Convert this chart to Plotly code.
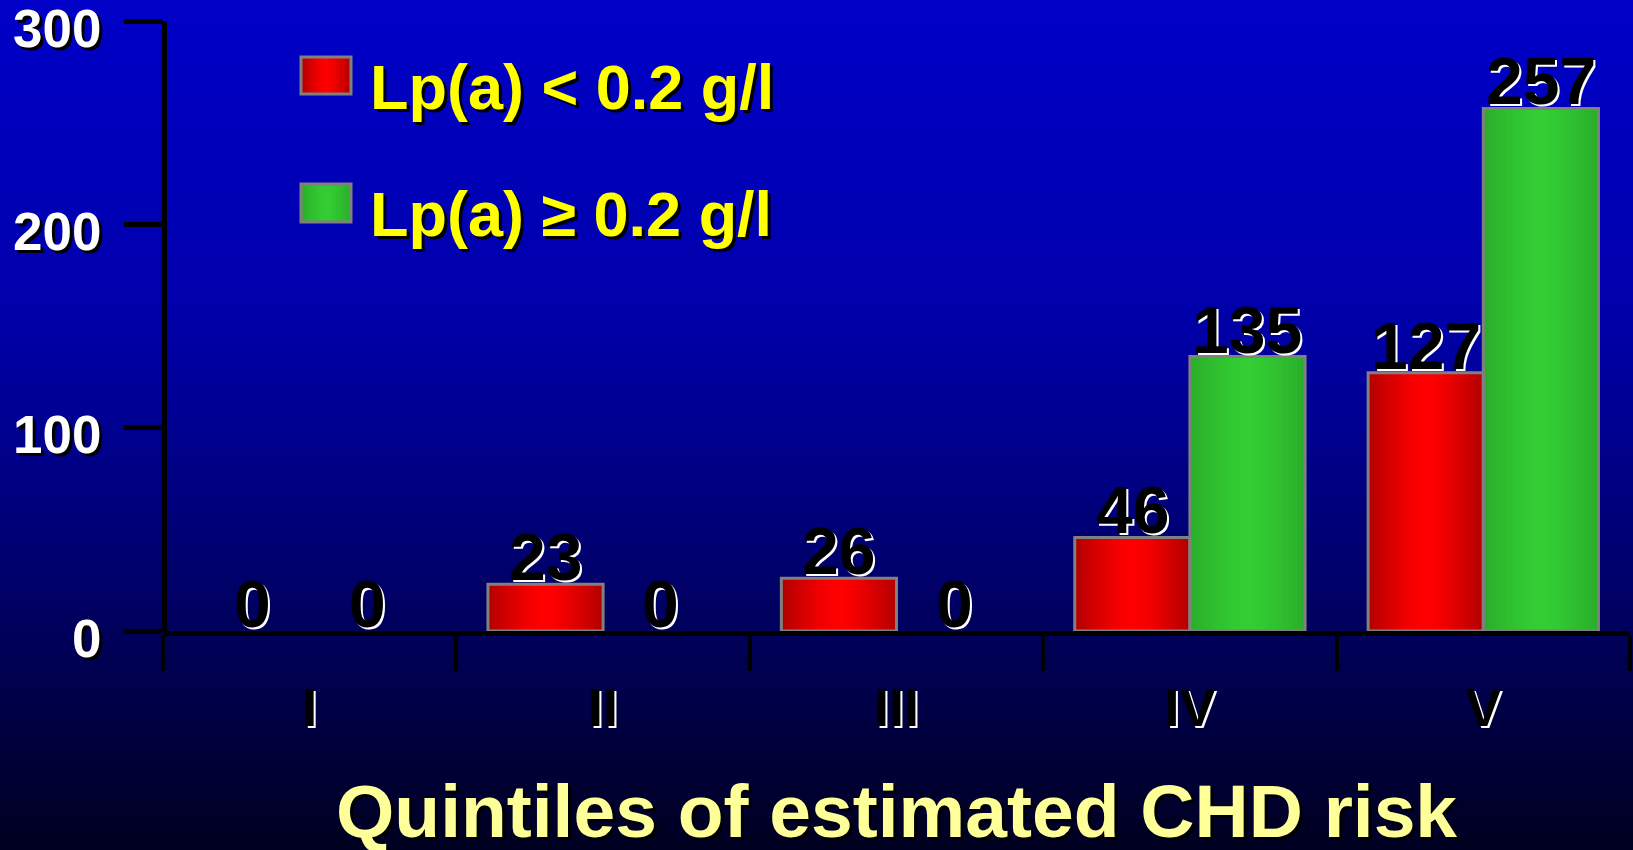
import plotly.graph_objects as go

# ---- data -------------------------------------------------------------
quintiles = ["I", "II", "III", "IV", "V"]
lpa_low = [0, 23, 26, 46, 127]        # Lp(a) < 0.2 g/l
lpa_high = [0, 0, 0, 135, 257]        # Lp(a) >= 0.2 g/l
series_names = ["Lp(a) < 0.2 g/l", "Lp(a) \u2265 0.2 g/l"]
y_tick_values = [0, 100, 200, 300]
x_title = "Quintiles of estimated CHD risk"

# ---- geometry ---------------------------------------------------------
W, H = 1633, 850
ML, MR, MT, MB = 163, 3, 21, 219
PW, PH = W - ML - MR, H - MT - MB


def paper_x(px):
    return (px - ML) / PW


def paper_y(py):
    return (H - MB - py) / PH


BARGAP = 0.215
BAR_W = (1 - BARGAP) / 2
CAT_PX = PW / len(quintiles)
AXIS_W = 5
FONT = "Liberation Sans, Arial, sans-serif"

RED_EDGE, RED_MID = (176, 0, 0), (255, 0, 0)
GREEN_EDGE, GREEN_MID = (42, 172, 42), (51, 206, 51)


def mix(a, b, f):
    return "rgb(%d,%d,%d)" % tuple(round(a[i] + (b[i] - a[i]) * f) for i in range(3))


def cylinder(t):
    # brightness profile across a bar: dark edges, bright centre
    return 1 - abs(2 * t - 1) ** 1.4


shapes = []

# page background: vertical blue gradient
bg_stops = [(0, 200), (300, 172), (425, 145), (600, 100), (700, 72), (850, 32)]


def bg_blue(y):
    for (y0, c0), (y1, c1) in zip(bg_stops, bg_stops[1:]):
        if y0 <= y <= y1:
            return c0 + (c1 - c0) * (y - y0) / (y1 - y0)
    return bg_stops[-1][1]


STEP = 4
for y in range(-STEP, H + STEP, STEP):
    shapes.append(dict(
        type="rect", xref="paper", yref="paper", layer="below",
        x0=paper_x(-10), x1=paper_x(W + 10), y0=paper_y(y + STEP + 1), y1=paper_y(y),
        fillcolor="rgb(0,0,%d)" % round(bg_blue(min(max(y + STEP / 2, 0), H))),
        line=dict(width=0),
    ))

# shaded fill of each bar (cylinder look)
N_STRIPS = 30
for values, offset, edge, mid in [
    (lpa_low, -BAR_W, RED_EDGE, RED_MID),
    (lpa_high, 0.0, GREEN_EDGE, GREEN_MID),
]:
    for i, v in enumerate(values):
        if v <= 0:
            continue
        for k in range(N_STRIPS):
            t0, t1 = k / N_STRIPS, (k + 1) / N_STRIPS
            shapes.append(dict(
                type="rect", xref="x", yref="y", layer="below",
                x0=i + offset + t0 * BAR_W, x1=i + offset + min(1.0, t1 + 0.01) * BAR_W,
                y0=0, y1=v,
                fillcolor=mix(edge, mid, cylinder((t0 + t1) / 2)), line=dict(width=0),
            ))

# legend swatches
swatch_boxes = [(301, 57, 351, 94), (301, 184, 351, 222)]
swatch_cols = [(RED_EDGE, RED_MID), (GREEN_EDGE, GREEN_MID)]
for (x0, y0, x1, y1), (edge, mid) in zip(swatch_boxes, swatch_cols):
    n = 20
    for k in range(n):
        a = x0 + (x1 - x0) * k / n
        b = x0 + (x1 - x0) * (k + 1.2) / n
        shapes.append(dict(
            type="rect", xref="paper", yref="paper", layer="above",
            x0=paper_x(a), x1=paper_x(min(b, x1)), y0=paper_y(y1), y1=paper_y(y0),
            fillcolor=mix(edge, mid, cylinder((k + 0.5) / n)), line=dict(width=0),
        ))
    shapes.append(dict(
        type="rect", xref="paper", yref="paper", layer="above",
        x0=paper_x(x0), x1=paper_x(x1), y0=paper_y(y1), y1=paper_y(y0),
        fillcolor="rgba(0,0,0,0)", line=dict(color="#808080", width=3),
    ))

# ---- traces -----------------------------------------------------------
fig = go.Figure()
for name, values in zip(series_names, [lpa_low, lpa_high]):
    fig.add_trace(go.Bar(
        name=name, x=quintiles, y=values,
        marker=dict(color="rgba(0,0,0,0)",
                    line=dict(color="#808080", width=[3 if v > 0 else 0 for v in values])),
        showlegend=False, hoverinfo="x+y",
    ))

annotations = []

# value labels sitting on top of each bar
label_font = dict(family=FONT, size=66, color="black", weight="bold",
                  shadow="2px 2px 0px white")
for values, side in [(lpa_low, -1), (lpa_high, 1)]:
    for q, v in zip(quintiles, values):
        annotations.append(dict(
            text=str(v), x=q, y=v, xref="x", yref="y", showarrow=False,
            xanchor="center", yanchor="bottom",
            xshift=side * BAR_W / 2 * CAT_PX, yshift=-12,
            font=label_font,
        ))

# legend texts
for name, (x0, y0, x1, y1) in zip(series_names, swatch_boxes):
    annotations.append(dict(
        text=name, xref="paper", yref="paper", showarrow=False,
        x=paper_x(368), xanchor="left", y=paper_y((y0 + y1) / 2 + 11), yanchor="middle",
        font=dict(family=FONT, size=63, color="#FFFF00", weight="bold",
                  shadow="3px 3px 0px black"),
    ))

# category axis title
annotations.append(dict(
    text=x_title, xref="paper", yref="paper", showarrow=False,
    x=0.5, xanchor="center", y=paper_y(811), yanchor="middle",
    font=dict(family=FONT, size=75, color="#FFFF99", weight="bold",
              shadow="3px 3px 0px black"),
))

fig.update_layout(
    width=W, height=H,
    margin=dict(l=ML, r=MR, t=MT, b=MB, pad=0, autoexpand=False),
    paper_bgcolor="#000060", plot_bgcolor="rgba(0,0,0,0)",
    barmode="group", bargap=BARGAP, bargroupgap=0,
    shapes=shapes, annotations=annotations,
    showlegend=False,
    xaxis=dict(
        type="category", range=[-0.5, 4.5], automargin=False,
        showline=True, linecolor="black", linewidth=AXIS_W,
        ticks="outside", tickson="boundaries", ticklen=35, tickwidth=4, tickcolor="black",
        showgrid=False, zeroline=False,
        tickfont=dict(family=FONT, size=54, color="black", weight="bold",
                      shadow="2px 2px 0px white"),
        ticklabelstandoff=25,
    ),
    yaxis=dict(
        range=[0, 300], tickvals=y_tick_values, automargin=False,
        anchor="free", position=1.0 / PW,
        showline=True, linecolor="black", linewidth=AXIS_W,
        ticks="outside", ticklen=38, tickwidth=5, tickcolor="black",
        showgrid=False, zeroline=False,
        tickfont=dict(family=FONT, size=53, color="white", weight="bold",
                      shadow="3px 3px 0px black"),
        ticklabelstandoff=12, ticklabelshift=7, ticklabeloverflow="allow",
    ),
)

fig.write_html("out.html")
